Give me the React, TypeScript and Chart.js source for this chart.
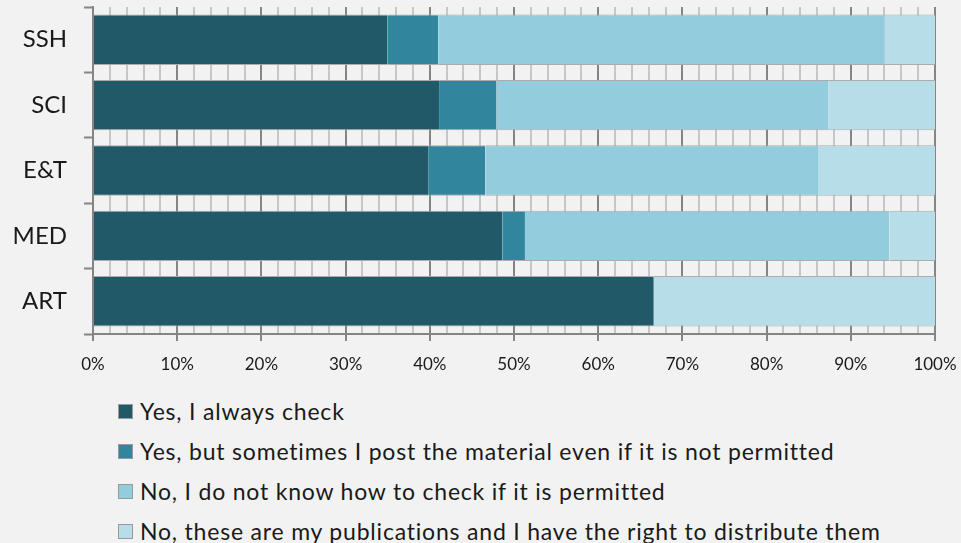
import React, { useEffect, useRef } from 'react';
import { Chart, registerables } from 'chart.js';

Chart.register(...registerables);

const categories = ['SSH', 'SCI', 'E&T', 'MED', 'ART'];
const seriesLabels = [
  'Yes, I always check',
  'Yes, but sometimes I post the material even if it is not permitted',
  'No, I do not know how to check if it is permitted',
  'No, these are my publications and I have the right to distribute them',
];
const alwaysCheck = [35.0, 41.1, 39.8, 48.6, 66.6];
const sometimesPost = [6.0, 6.8, 6.8, 2.7, 0];
const dontKnow = [53.0, 39.4, 39.6, 43.3, 0];
const myPublications = [6.0, 12.7, 13.8, 5.4, 33.4];
const seriesValues = [alwaysCheck, sometimesPost, dontKnow, myPublications];
const seriesColors = ['#215968', '#31859C', '#93CDDD', '#B7DEE8'];

const FONT = 'Lato, "Open Sans", sans-serif';
const AXIS = '#858585';

export default function App() {
  const ref = useRef<HTMLCanvasElement | null>(null);

  useEffect(() => {
    if (!ref.current) return;
    const isMajor = (ctx: any) => ctx.tick && Math.round(ctx.tick.value) % 10 === 0;
    const chart = new Chart(ref.current, {
      type: 'bar',
      data: {
        labels: categories,
        datasets: seriesLabels.map((label, i) => ({
          label,
          data: seriesValues[i],
          backgroundColor: seriesColors[i],
          borderColor: '#ababab',
          borderWidth: { top: 1, bottom: 1, left: 0, right: 0 },
          borderSkipped: false,
          barPercentage: 0.77,
          categoryPercentage: 1,
        })),
      },
      options: {
        indexAxis: 'y',
        responsive: false,
        animation: false,
        layout: { padding: { top: 7, right: 26, left: 0, bottom: 0 } },
        plugins: { legend: { display: false }, tooltip: { enabled: false } },
        scales: {
          x: {
            stacked: true,
            min: 0,
            max: 100,
            ticks: {
              stepSize: 2,
              autoSkip: false,
              maxRotation: 0,
              padding: 13,
              color: '#1a1a1a',
              font: { family: FONT, size: 17 },
              callback: (v: any) => (Math.round(Number(v)) % 10 === 0 ? Math.round(Number(v)) + '%' : ''),
            },
            grid: {
              color: (ctx: any) => (isMajor(ctx) ? AXIS : '#c6c6c6'),
              lineWidth: 2,
              tickColor: (ctx: any) => (isMajor(ctx) ? AXIS : 'rgba(0,0,0,0)'),
              tickLength: 7,
              tickWidth: 2,
            },
            border: { color: AXIS, width: 2 },
            afterFit: (scale: any) => {
              scale.height = 46;
              scale.paddingLeft = 0;
              scale.paddingRight = 0;
            },
          },
          y: {
            stacked: true,
            ticks: {
              padding: 17,
              color: '#1a1a1a',
              font: { family: FONT, size: 24 },
            },
            grid: {
              drawOnChartArea: false,
              offset: true,
              tickLength: 9,
              tickWidth: 2,
              tickColor: AXIS,
              color: AXIS,
            },
            border: { color: AXIS, width: 2 },
            afterFit: (scale: any) => {
              scale.width = 93;
              scale.paddingTop = 0;
              scale.paddingBottom = 0;
            },
          },
        },
      },
    });
    return () => chart.destroy();
  }, []);

  return (
    <div style={{ position: 'fixed', left: 0, top: 0, width: 961, height: 543, background: '#f2f2f2', overflow: 'hidden' }}>
      <canvas ref={ref} width={961} height={380} style={{ position: 'absolute', left: 0, top: 0 }} />
      <div
        style={{
          position: 'absolute',
          left: 118,
          top: 391,
          fontFamily: FONT,
          fontSize: 23,
          letterSpacing: '0.8px',
          color: '#1a1a1a',
        }}
      >
        {seriesLabels.map((label, i) => (
          <div key={label} style={{ display: 'flex', alignItems: 'center', height: 40, whiteSpace: 'nowrap' }}>
            <span
              style={{
                display: 'inline-block',
                width: 13,
                height: 13,
                background: seriesColors[i],
                border: '1px solid #9a9a9a',
                marginRight: 7,
                boxSizing: 'content-box',
              }}
            />
            <span>{label}</span>
          </div>
        ))}
      </div>
    </div>
  );
}
